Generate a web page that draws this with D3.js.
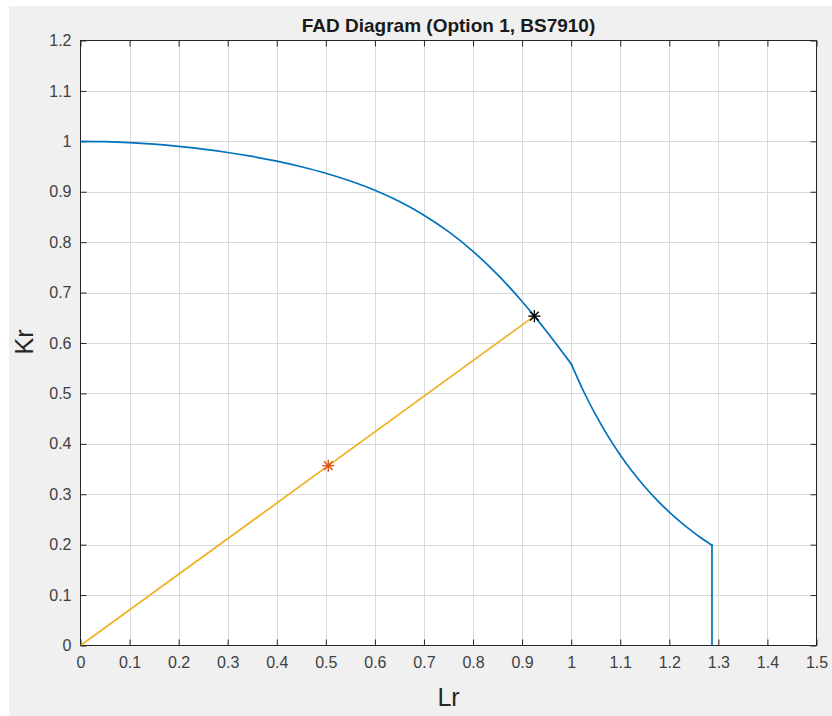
<!DOCTYPE html>
<html>
<head>
<meta charset="utf-8">
<script src="https://cdn.jsdelivr.net/npm/d3@7"></script>
<style>
  html, body { margin: 0; padding: 0; background: #ffffff; }
  svg { display: block; }
  text { font-family: "Liberation Sans", Arial, Helvetica, sans-serif; }
</style>
</head>
<body>
<svg id="chart" width="832" height="716"></svg>
<script>
// Failure assessment curve, Option 1 (BS7910): Lr vs Kr
const curveLr = [0, 0.05, 0.1, 0.15, 0.2, 0.25, 0.3, 0.35, 0.4, 0.45, 0.5, 0.55, 0.6, 0.65, 0.7, 0.75, 0.8, 0.85, 0.875, 0.9, 0.925, 0.95, 0.975, 1.0,
                 1.025, 1.05, 1.075, 1.1, 1.125, 1.15, 1.175, 1.2, 1.225, 1.25, 1.265, 1.287, 1.287];
const curveKr = [1.0, 0.9994, 0.9975, 0.9944, 0.9901, 0.9846, 0.9779, 0.9700, 0.9606, 0.9496, 0.9367, 0.9212, 0.9028, 0.8805, 0.8535, 0.8208, 0.7817, 0.7356, 0.7099, 0.6824, 0.6533, 0.6229, 0.5912, 0.5586,
                 0.5048, 0.4573, 0.4153, 0.3779, 0.3446, 0.3150, 0.2884, 0.2645, 0.2431, 0.2238, 0.2131, 0.1990, 0];
// the curve changes form at Lr = 1 and is cut off at Lr max
const breakLr = 1.0;
const cutoffLr = 1.287;

// Assessment point and its intersection with the curve
const loadLineLr = [0, 0.925];
const loadLineKr = [0, 0.6533];
const assessPoint = { Lr: 0.505, Kr: 0.3567 };
const limitPoint = { Lr: 0.925, Kr: 0.6533 };

const xTicks = [0, 0.1, 0.2, 0.3, 0.4, 0.5, 0.6, 0.7, 0.8, 0.9, 1, 1.1, 1.2, 1.3, 1.4, 1.5];
const yTicks = [0, 0.1, 0.2, 0.3, 0.4, 0.5, 0.6, 0.7, 0.8, 0.9, 1, 1.1, 1.2];

const titleText = "FAD Diagram (Option 1, BS7910)";
const xLabel = "Lr";
const yLabel = "Kr";

const svg = d3.select("#chart");

// figure background
svg.append("rect").attr("x", 9).attr("y", 6).attr("width", 823).attr("height", 710).attr("fill", "#f0f0f0");

const pL = 80.5, pR = 816.5, pT = 40.5, pB = 645.5;

const x = d3.scaleLinear().domain([0, 1.5]).range([pL, pR]);
const y = d3.scaleLinear().domain([0, 1.2]).range([pB, pT]);

// plot area
svg.append("rect").attr("x", pL).attr("y", pT).attr("width", pR - pL).attr("height", pB - pT).attr("fill", "#ffffff");

// grid
const grid = svg.append("g");
grid.selectAll(".gx").data(xTicks.slice(1, -1)).enter().append("line")
  .attr("x1", d => Math.round(x(d)) + 0.5).attr("x2", d => Math.round(x(d)) + 0.5)
  .attr("y1", pT).attr("y2", pB)
  .attr("stroke", "#dadada").attr("stroke-width", 1);
grid.selectAll(".gy").data(yTicks.slice(1, -1)).enter().append("line")
  .attr("y1", d => Math.round(y(d)) + 0.5).attr("y2", d => Math.round(y(d)) + 0.5)
  .attr("x1", pL).attr("x2", pR)
  .attr("stroke", "#dadada").attr("stroke-width", 1);

// axes (inward ticks, box on)
const fmt = d => (d === 0 ? "0" : String(d));
const axisColor = "#262626";
const tickLen = 6;

function styleAxis(g) {
  g.select(".domain").remove();
  g.selectAll(".tick line").attr("stroke", axisColor);
  g.selectAll(".tick text").attr("fill", "#404040").attr("font-size", "16px");
}

const xAxis = svg.append("g").attr("transform", `translate(0,${pB})`)
  .call(d3.axisBottom(x).tickValues(xTicks).tickFormat(fmt).tickSizeInner(-tickLen).tickSizeOuter(0).tickPadding(11));
styleAxis(xAxis);

const xAxisTop = svg.append("g").attr("transform", `translate(0,${pT})`)
  .call(d3.axisTop(x).tickValues(xTicks).tickFormat("").tickSizeInner(-tickLen).tickSizeOuter(0));
styleAxis(xAxisTop);

const yAxis = svg.append("g").attr("transform", `translate(${pL},0)`)
  .call(d3.axisLeft(y).tickValues(yTicks).tickFormat(fmt).tickSizeInner(-tickLen).tickSizeOuter(0).tickPadding(9));
styleAxis(yAxis);

const yAxisRight = svg.append("g").attr("transform", `translate(${pR},0)`)
  .call(d3.axisRight(y).tickValues(yTicks).tickFormat("").tickSizeInner(-tickLen).tickSizeOuter(0));
styleAxis(yAxisRight);

// box
svg.append("rect").attr("x", pL).attr("y", pT).attr("width", pR - pL).attr("height", pB - pT)
  .attr("fill", "none").attr("stroke", axisColor).attr("stroke-width", 1);

// curve, drawn as smooth pieces joined at the break and the cut-off
const pts = d3.zip(curveLr, curveKr);
const smooth = d3.line().x(d => x(d[0])).y(d => y(d[1])).curve(d3.curveMonotoneX);
const straight = d3.line().x(d => x(d[0])).y(d => y(d[1]));
const iBreak = curveLr.indexOf(breakLr);
const iCut = curveLr.indexOf(cutoffLr);
const pieces = [
  { pts: pts.slice(0, iBreak + 1), gen: smooth },
  { pts: pts.slice(iBreak, iCut + 1), gen: smooth },
  { pts: pts.slice(iCut), gen: straight }
];

svg.append("clipPath").attr("id", "plotclip").append("rect")
  .attr("x", pL).attr("y", pT - 2).attr("width", pR - pL).attr("height", pB - pT + 2);

const plot = svg.append("g").attr("clip-path", "url(#plotclip)");

plot.selectAll(".fad").data(pieces).enter().append("path")
  .attr("d", d => d.gen(d.pts)).attr("fill", "none").attr("stroke", "#0072BD").attr("stroke-width", 1.7)
  .attr("stroke-linejoin", "round").attr("stroke-linecap", "round");

plot.append("path").datum(d3.zip(loadLineLr, loadLineKr))
  .attr("d", straight).attr("fill", "none").attr("stroke", "#EDB120").attr("stroke-width", 1.7);

// star markers
function star(g, cx, cy, r, color) {
  const s = g.append("g").attr("transform", `translate(${cx},${cy})`).attr("stroke", color).attr("stroke-width", 1.4);
  s.append("line").attr("x1", -r).attr("x2", r).attr("y1", 0).attr("y2", 0);
  s.append("line").attr("x1", 0).attr("x2", 0).attr("y1", -r).attr("y2", r);
  const k = r * 0.72;
  s.append("line").attr("x1", -k).attr("x2", k).attr("y1", -k).attr("y2", k);
  s.append("line").attr("x1", -k).attr("x2", k).attr("y1", k).attr("y2", -k);
}
star(plot, x(assessPoint.Lr), y(assessPoint.Kr), 6, "#D95319");
star(plot, x(limitPoint.Lr), y(limitPoint.Kr), 6, "#000000");

// title and labels
svg.append("text").attr("x", (pL + pR) / 2).attr("y", 32).attr("text-anchor", "middle")
  .attr("font-size", "19px").attr("font-weight", "bold").attr("fill", "#1a1a1a").text(titleText);

svg.append("text").attr("x", (pL + pR) / 2).attr("y", 706).attr("text-anchor", "middle")
  .attr("font-size", "25px").attr("fill", "#262626").text(xLabel);

svg.append("text").attr("transform", `translate(33,342) rotate(-90)`).attr("text-anchor", "middle")
  .attr("font-size", "25px").attr("fill", "#262626").text(yLabel);
</script>
</body>
</html>
